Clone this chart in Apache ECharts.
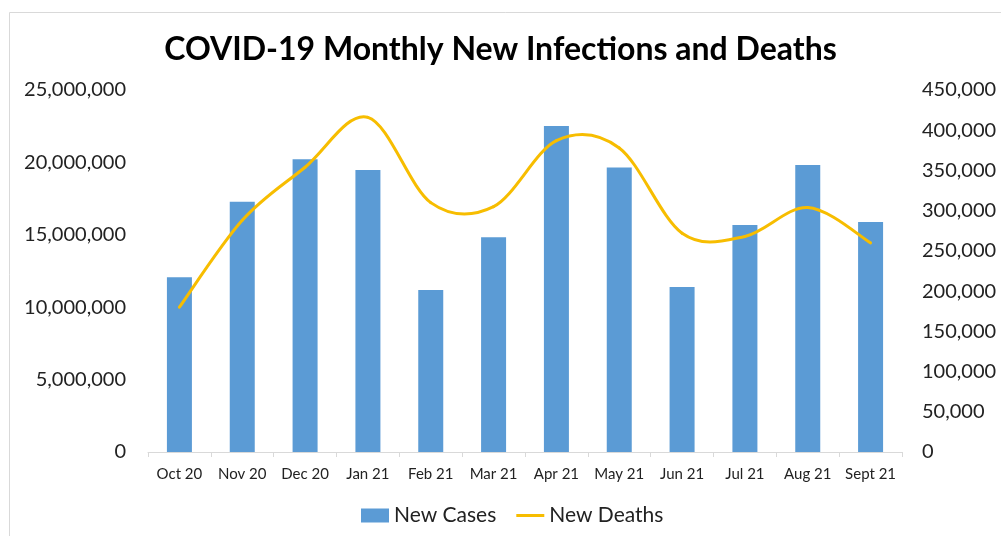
<!DOCTYPE html>
<html>
<head>
<meta charset="utf-8">
<title>COVID-19 Monthly New Infections and Deaths</title>
<script src="https://cdn.jsdelivr.net/npm/echarts@6/dist/echarts.min.js"></script>
<style>
  html, body { margin: 0; padding: 0; background: #fff; }
  #chart { width: 1001px; height: 536px; }
</style>
</head>
<body>
<div id="chart"></div>
<script>
// Monthly categories
const months = ['Oct 20', 'Nov 20', 'Dec 20', 'Jan 21', 'Feb 21', 'Mar 21',
                'Apr 21', 'May 21', 'Jun 21', 'Jul 21', 'Aug 21', 'Sept 21'];

// New cases per month (left axis)
const newCases = [12070000, 17290000, 20210000, 19480000, 11190000, 14830000,
                  22510000, 19640000, 11400000, 15680000, 19820000, 15880000];

// New deaths per month (right axis)
const newDeaths = [180000, 288000, 354000, 416000, 310000, 305000,
                   387000, 378000, 272000, 268000, 304000, 260000];

// Axis ranges
const casesAxis = { min: 0, max: 25000000, interval: 5000000 };
const deathsAxis = { min: 0, max: 450000, interval: 50000 };

const FONT = 'Lato, "Open Sans", sans-serif';
const LINE_COLOR = '#f7bd00';
const BAR_COLOR = '#5b9bd5';
const fmt = v => Number(v).toLocaleString('en-US');

// Smooth curve segment i -> i+1 (uniform Catmull-Rom as cubic Bezier),
// every point placed through the chart's own coordinate system.
function renderDeathSegment(params, api) {
  const i = params.dataIndex;
  const n = newDeaths.length;
  if (i >= n - 1) return null;
  const pt = k => {
    const j = Math.max(0, Math.min(n - 1, k));
    return api.coord([j, newDeaths[j]]);
  };
  const p0 = pt(i - 1), p1 = pt(i), p2 = pt(i + 1), p3 = pt(i + 2);
  const t = 1 / 6;
  return {
    type: 'bezierCurve',
    shape: {
      x1: p1[0], y1: p1[1],
      x2: p2[0], y2: p2[1],
      cpx1: p1[0] + (p2[0] - p0[0]) * t,
      cpy1: p1[1] + (p2[1] - p0[1]) * t,
      cpx2: p2[0] - (p3[0] - p1[0]) * t,
      cpy2: p2[1] - (p3[1] - p1[1]) * t
    },
    style: { stroke: LINE_COLOR, lineWidth: 3, fill: null, lineCap: 'round' }
  };
}

const chart = echarts.init(document.getElementById('chart'), null, { renderer: 'canvas' });

chart.setOption({
  backgroundColor: '#ffffff',
  animation: false,
  textStyle: { fontFamily: FONT },
  title: {
    text: 'COVID-19 Monthly New Infections and Deaths',
    left: 'center',
    top: 29,
    textStyle: { fontFamily: FONT, fontSize: 32, fontWeight: 'bold', color: '#000000' }
  },
  graphic: [{
    type: 'rect',
    silent: true,
    shape: { x: 9.5, y: 12.5, width: 1100, height: 700 },
    style: { fill: 'none', stroke: '#d9d9d9', lineWidth: 1 }
  }],
  legend: {
    left: 356,
    top: 500,
    itemWidth: 28,
    itemHeight: 14,
    itemGap: 20,
    textStyle: { fontFamily: FONT, fontSize: 21, color: '#222222' },
    data: [
      { name: 'New Cases', icon: 'rect' },
      { name: 'New Deaths', icon: 'path://M0,0 M0,14 M0,5.5 L28,5.5 L28,8.5 L0,8.5 Z' }
    ]
  },
  grid: { left: 148, right: 99, top: 90, bottom: 84 },
  xAxis: {
    type: 'category',
    data: months,
    boundaryGap: true,
    axisLine: { lineStyle: { color: '#d9d9d9', width: 1 } },
    axisTick: { show: true, length: 5, lineStyle: { color: '#d9d9d9' } },
    axisLabel: { fontFamily: FONT, fontSize: 15, color: '#222222', margin: 15, interval: 0 }
  },
  yAxis: [{
    type: 'value',
    min: casesAxis.min,
    max: casesAxis.max,
    interval: casesAxis.interval,
    axisLine: { show: false },
    axisTick: { show: false },
    splitLine: { show: false },
    axisLabel: { fontFamily: FONT, fontSize: 20, color: '#222222', margin: 22, formatter: fmt }
  }, {
    type: 'value',
    min: deathsAxis.min,
    max: deathsAxis.max,
    interval: deathsAxis.interval,
    axisLine: { show: false },
    axisTick: { show: false },
    splitLine: { show: false },
    axisLabel: { fontFamily: FONT, fontSize: 20, color: '#222222', margin: 20, formatter: fmt }
  }],
  series: [{
    name: 'New Cases',
    type: 'bar',
    yAxisIndex: 0,
    data: newCases,
    barWidth: 25,
    itemStyle: { color: BAR_COLOR }
  }, {
    name: 'New Deaths',
    type: 'custom',
    yAxisIndex: 1,
    data: newDeaths.map((v, i) => [i, v]),
    encode: { x: 0, y: 1 },
    renderItem: renderDeathSegment,
    itemStyle: { color: LINE_COLOR },
    z: 3
  }]
});
</script>
</body>
</html>
